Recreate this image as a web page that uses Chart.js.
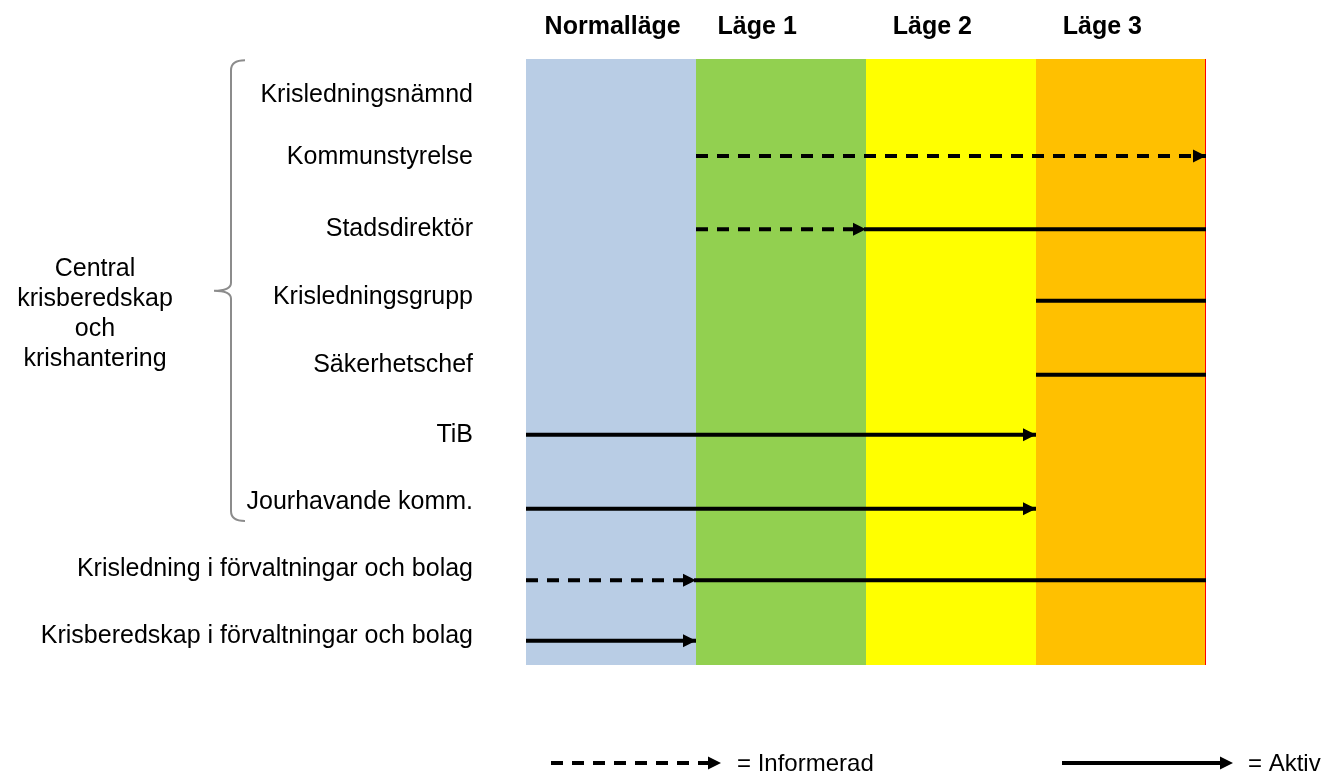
<!DOCTYPE html>
<html>
<head>
<meta charset="utf-8">
<script src="https://cdn.jsdelivr.net/npm/chart.js@4.4.1/dist/chart.umd.min.js"></script>
<style>
  body { margin: 0; background: #fff; }
  canvas { display: block; }
</style>
</head>
<body>
<canvas id="myChart" width="1325" height="774"></canvas>
<script>
// rader (y i radenheter, 0 = överkant)
const rowLabels = ["Krisledningsnämnd", "Kommunstyrelse", "Stadsdirektör", "Krisledningsgrupp", "Säkerhetschef", "TiB", "Jourhavande komm.", "Krisledning i förvaltningar och bolag", "Krisberedskap i förvaltningar och bolag"];
const rowPos = [0.53, 1.46, 2.53, 3.54, 4.55, 5.58, 6.58, 7.57, 8.57];

// lägen (kolumner)
const phases = ["Normalläge", "Läge 1", "Läge 2", "Läge 3"];
const phasePos = [0.51, 1.36, 2.39, 3.39];
const phaseColors = ["#B9CDE5", "#92D050", "#FFFF00", "#FFC000"];

// pilar
const segRow = [1.44, 2.53, 2.53, 3.59, 4.69, 5.58, 6.68, 7.74, 7.74, 8.64];
const segFrom = [1, 1, 2, 3, 3, 0, 0, 0, 1, 0];
const segTo = [4, 2, 4, 4, 4, 3, 3, 1, 4, 1];
const segKind = ["Informerad", "Informerad", "Aktiv", "Aktiv", "Aktiv", "Aktiv", "Aktiv", "Informerad", "Aktiv", "Aktiv"];
const segArrow = [true, true, false, false, false, true, true, true, false, true];

const groupLabel = ["Central", "krisberedskap", "och", "krishantering"];
const legendItems = ["Informerad", "Aktiv"];

const FONT = "'Liberation Sans', Arial, sans-serif";
const DASH = [12, 9];

const datasets = segRow.map((r, i) => ({
  label: segKind[i],
  data: [{ x: segFrom[i], y: r }, { x: segTo[i], y: r }],
  showLine: true,
  borderColor: "#000",
  borderWidth: 4,
  borderDash: segKind[i] === "Informerad" ? DASH : [],
  pointRadius: 0,
  arrow: segArrow[i],
}));

function arrowHead(ctx, x, y) {
  ctx.beginPath();
  ctx.moveTo(x, y);
  ctx.lineTo(x - 13, y - 6.5);
  ctx.lineTo(x - 13, y + 6.5);
  ctx.closePath();
  ctx.fill();
}

const background = {
  id: "background",
  beforeDatasetsDraw(chart) {
    const { ctx, chartArea, scales } = chart;
    ctx.save();
    phaseColors.forEach((c, i) => {
      const x1 = scales.x.getPixelForValue(i);
      const x2 = scales.x.getPixelForValue(i + 1);
      ctx.fillStyle = c;
      ctx.fillRect(x1, chartArea.top, x2 - x1, chartArea.bottom - chartArea.top);
    });
    ctx.fillStyle = "#FF0000";
    ctx.fillRect(chartArea.right - 1, chartArea.top, 1, chartArea.bottom - chartArea.top);
    ctx.restore();
  },
};

const extras = {
  id: "extras",
  afterDatasetsDraw(chart) {
    const { ctx, scales } = chart;
    ctx.save();
    ctx.fillStyle = "#000";
    chart.data.datasets.forEach((ds, i) => {
      if (!ds.arrow) return;
      const pts = chart.getDatasetMeta(i).data;
      const p = pts[pts.length - 1];
      arrowHead(ctx, p.x, p.y);
    });

    // klammer
    const yTop = scales.y.getPixelForValue(0.02);
    const yMid = scales.y.getPixelForValue(3.44);
    const yBot = scales.y.getPixelForValue(6.86);
    const xs = 231, xe = 245, xm = 214;
    ctx.strokeStyle = "#8C8C8C";
    ctx.lineWidth = 2;
    ctx.beginPath();
    ctx.moveTo(xe, yTop);
    ctx.quadraticCurveTo(xs, yTop, xs, yTop + 10);
    ctx.lineTo(xs, yMid - 8);
    ctx.quadraticCurveTo(xs, yMid, xm, yMid);
    ctx.quadraticCurveTo(xs, yMid, xs, yMid + 8);
    ctx.lineTo(xs, yBot - 10);
    ctx.quadraticCurveTo(xs, yBot, xe, yBot);
    ctx.stroke();

    ctx.fillStyle = "#000";
    ctx.font = "25px " + FONT;
    ctx.textAlign = "center";
    ctx.textBaseline = "middle";
    groupLabel.forEach((t, i) => ctx.fillText(t, 95, yMid - 22 + i * 30));

    // teckenförklaring
    const ly = 763;
    ctx.lineWidth = 4;
    ctx.strokeStyle = "#000";
    ctx.setLineDash(DASH);
    ctx.beginPath(); ctx.moveTo(551, ly); ctx.lineTo(712, ly); ctx.stroke();
    ctx.setLineDash([]);
    arrowHead(ctx, 721, ly);
    ctx.beginPath(); ctx.moveTo(1062, ly); ctx.lineTo(1225, ly); ctx.stroke();
    arrowHead(ctx, 1233, ly);
    ctx.textAlign = "left";
    ctx.font = "24px " + FONT;
    ctx.fillText("= " + legendItems[0], 737, ly + 1);
    ctx.fillText("= " + legendItems[1], 1248, ly + 1);
    ctx.restore();
  },
};

new Chart(document.getElementById("myChart"), {
  type: "scatter",
  data: { datasets },
  options: {
    responsive: false,
    animation: false,
    layout: { padding: { left: 0, top: 0, right: 119, bottom: 109 } },
    plugins: { legend: { display: false }, tooltip: { enabled: false } },
    scales: {
      x: {
        type: "linear",
        position: "top",
        min: 0,
        max: 4,
        grid: { display: false },
        border: { display: false },
        afterBuildTicks: (s) => { s.ticks = phasePos.map((v) => ({ value: v })); },
        afterFit: (s) => { s.height = 59; s.paddingLeft = 0; s.paddingRight = 0; },
        ticks: {
          padding: 9,
          maxRotation: 0,
          autoSkip: false,
          color: "#000",
          font: { family: FONT, size: 25, weight: "bold" },
          callback: (v, i) => phases[i],
        },
      },
      y: {
        type: "linear",
        reverse: true,
        min: 0,
        max: 9,
        grid: { display: false },
        border: { display: false },
        afterBuildTicks: (s) => { s.ticks = rowPos.map((v) => ({ value: v })); },
        afterFit: (s) => { s.width = 526; s.paddingTop = 0; s.paddingBottom = 0; },
        ticks: {
          padding: 45,
          autoSkip: false,
          color: "#000",
          font: { family: FONT, size: 25 },
          callback: (v, i) => rowLabels[i],
        },
      },
    },
  },
  plugins: [background, extras],
});
</script>
</body>
</html>
